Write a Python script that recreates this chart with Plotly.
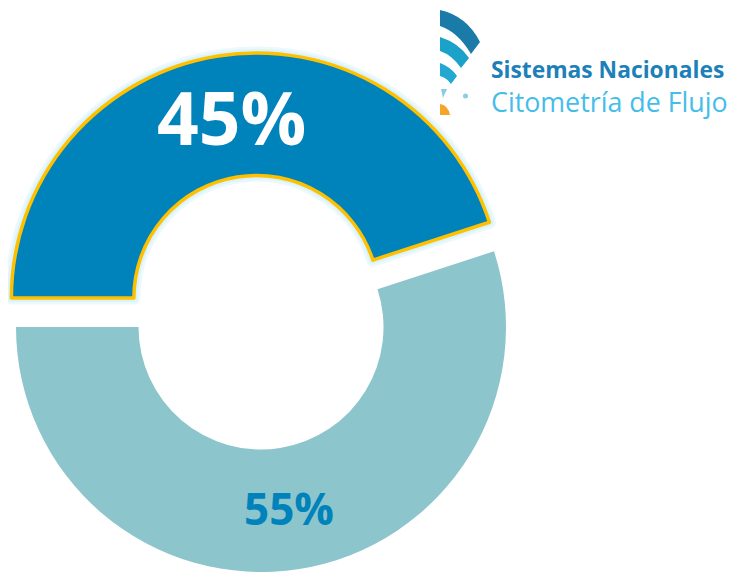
import math
import plotly.graph_objects as go

# ---------------- data ----------------
categories = ["Grupo A", "Grupo B"]
values = [45, 55]
label_texts = ["45%", "55%"]

# ---------------- styling / geometry ----------------
OFF = 8                      # default page body margin of the html output
W, H = 735, 573              # figure size (page adds OFF px of margin)
colors = ["#0082BA", "#8DC5CC"]
label_colors = ["#FFFFFF", "#0082BA"]
label_sizes = [73, 44]
label_xshift = [4, -1]
R = 245.0          # outer radius in px
HOLE = 0.5
PULL = 0.12        # pull-out of first slice, fraction of radius
CX, CY = 261.0, 327.0   # pie centre (screen px)
ROT = -90          # first slice starts at 9 o'clock, drawn clockwise

total = sum(values)
spans = [v / total * 360.0 for v in values]
starts = [ROT + sum(spans[:i]) for i in range(len(values))]
mids_cw = [s + sp / 2 for s, sp in zip(starts, spans)]


def px(x):
    return (x - OFF) / W


def py(y):
    return 1 - (y - OFF) / H


def cw_to_xy(cx, cy, ang, r):
    a = math.radians(ang)
    return cx + r * math.sin(a), cy - r * math.cos(a)


def domain_for(cx, cy, r):
    x0 = min(1.0, max(0.0, px(cx - r)))
    x1 = min(1.0, max(0.0, px(cx + r)))
    y0 = min(1.0, max(0.0, py(cy + r)))
    y1 = min(1.0, max(0.0, py(cy - r)))
    return dict(x=[x0, x1], y=[y0, y1])


pcx, pcy = cw_to_xy(CX, CY, mids_cw[0], PULL * R)

fig = go.Figure()

common = dict(labels=categories, values=values, sort=False, direction="clockwise",
              rotation=ROT, hole=HOLE, textinfo="none", hoverinfo="label+percent",
              showlegend=False)
clear = "rgba(0,0,0,0)"

fig.add_trace(go.Pie(**common, domain=domain_for(CX, CY, R),
                     marker=dict(colors=[clear, colors[1]], line=dict(width=0))))
fig.add_trace(go.Pie(**common, domain=domain_for(pcx, pcy, R),
                     marker=dict(colors=[clear, clear],
                                 line=dict(color=["rgba(190,234,248,0.30)", clear],
                                           width=[13, 0]))))
fig.add_trace(go.Pie(**common, domain=domain_for(pcx, pcy, R),
                     marker=dict(colors=[clear, clear],
                                 line=dict(color=["rgba(200,238,250,0.45)", clear],
                                           width=[8, 0]))))
fig.add_trace(go.Pie(**common, domain=domain_for(pcx, pcy, R),
                     marker=dict(colors=[colors[0], clear],
                                 line=dict(color=["#FFC000", clear], width=[3.5, 0]))))

centres = [(pcx, pcy), (CX, CY)]
annotations = []
rmid = R * (1 + HOLE) / 2
for i, txt in enumerate(label_texts):
    x, y = cw_to_xy(centres[i][0], centres[i][1], mids_cw[i], rmid)
    annotations.append(dict(x=px(x), y=py(y), xref="paper", yref="paper",
                            text=f"<b>{txt}</b>", showarrow=False,
                            xanchor="center", yanchor="middle",
                            xshift=label_xshift[i],
                            font=dict(family="Open Sans", size=label_sizes[i],
                                      color=label_colors[i])))

annotations.append(dict(x=px(489), y=py(70), xref="paper", yref="paper",
                        text="<b>Sistemas Nacionales</b>", showarrow=False,
                        xanchor="left", yanchor="middle",
                        font=dict(family="Open Sans", size=22.8, color="#1D80B9")))
annotations.append(dict(x=px(489), y=py(101), xref="paper", yref="paper",
                        text="Citometría de Flujo", showarrow=False,
                        xanchor="left", yanchor="middle",
                        font=dict(family="Open Sans", size=26.8, color="#45BDE9")))


def ppath(cmds):
    out = []
    for c in cmds:
        if isinstance(c, str):
            out.append(c)
        else:
            out.append(f"{px(c[0]):.5f},{py(c[1]):.5f}")
    return " ".join(out)


icon_shapes = [
    (["M", (440, 10), "Q", (467, 16), (480, 42), "L", (471, 54), "Q", (458, 32), (440, 26), "Z"], "#1A7BA8"),
    (["M", (440, 37), "Q", (459, 43), (469, 58), "L", (461, 68), "Q", (452, 55), (440, 51), "Z"], "#1AA2C9"),
    (["M", (440, 63), "Q", (451, 67), (457, 76), "L", (451, 84), "Q", (447, 78), (440, 76), "Z"], "#22A8D2"),
    (["M", (441, 89), "L", (447, 89), "L", (443, 98), "Z"], "#8CCBE6"),
    (["M", (440, 104), "Q", (448, 105), (450, 115), "L", (440, 115), "Z"], "#F5A52A"),
]
shapes = [dict(type="path", xref="paper", yref="paper", path=ppath(p),
               fillcolor=c, line=dict(width=0), layer="above") for p, c in icon_shapes]
shapes.append(dict(type="circle", xref="paper", yref="paper",
                   x0=px(463), x1=px(468), y0=py(98.5), y1=py(93.5),
                   fillcolor="#8CCBE6", line=dict(width=0)))

fig.update_layout(width=W, height=H, margin=dict(l=0, r=0, t=0, b=0),
                  paper_bgcolor="white", plot_bgcolor="white",
                  annotations=annotations, shapes=shapes, showlegend=False)

fig.write_html("out.html")
